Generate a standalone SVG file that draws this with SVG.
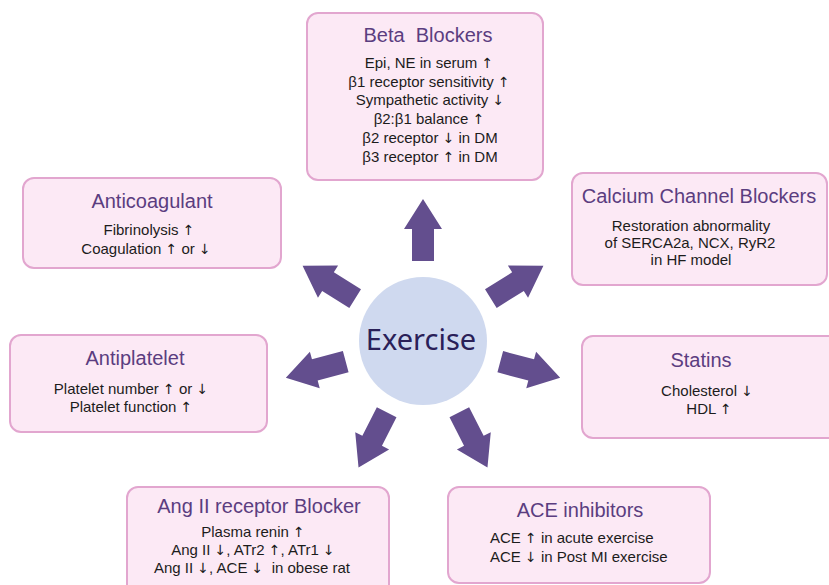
<svg xmlns="http://www.w3.org/2000/svg" width="829" height="585" viewBox="0 0 829 585">
  <style>
    .box { fill: #fce9f5; stroke: #e2a6cf; stroke-width: 2; }
    .title { font-family: "Liberation Sans", Arial, sans-serif; font-size: 20px; fill: #5b3d80; text-anchor: middle; }
    .body { font-family: "Liberation Sans", Arial, sans-serif; font-size: 15px; fill: #1c1c1c; text-anchor: middle; }
    .left { text-anchor: start; }
    .ar { font-family: "DejaVu Sans", sans-serif; font-size: 14px; fill: #1c1c1c; }
    .arrow { fill: #634e8e; }
  </style>
  <defs>
    <polygon id="blockArrow" points="0,-11 32,-11 32,-19 62,0 32,19 32,11 0,11"/>
  </defs>
  <rect width="829" height="585" fill="#ffffff"/>

  <g id="connectors" class="arrow">
    <use href="#blockArrow" transform="translate(423,341) rotate(-90) translate(80,0)"/>
    <use href="#blockArrow" transform="translate(423,341) rotate(-32) translate(80,0)"/>
    <use href="#blockArrow" transform="translate(423,341) rotate(15) translate(80,0)"/>
    <use href="#blockArrow" transform="translate(423,341) rotate(63) translate(80,0)"/>
    <use href="#blockArrow" transform="translate(423,341) rotate(117) translate(80,0)"/>
    <use href="#blockArrow" transform="translate(423,341) rotate(165) translate(80,0)"/>
    <use href="#blockArrow" transform="translate(423,341) rotate(212) translate(80,0)"/>
  </g>

  <g id="exercise">
    <circle cx="423" cy="341" r="64" fill="#cfd9ef"/>
    <text x="421" y="350" font-family="'Noto Sans', 'Open Sans', sans-serif" font-size="29" fill="#2a2058" text-anchor="middle">Exercise</text>
  </g>

  <g id="beta-blockers">
    <rect class="box" x="307" y="13" width="236" height="167" rx="11"/>
    <text class="title" x="428" y="42">Beta&#160; Blockers</text>
    <text class="body" x="429" y="68">Epi, NE in serum <tspan class="ar">↑</tspan></text>
    <text class="body" x="429" y="87">β1 receptor sensitivity <tspan class="ar">↑</tspan></text>
    <text class="body" x="430" y="105">Sympathetic activity <tspan class="ar">↓</tspan></text>
    <text class="body" x="429" y="124">β2:β1 balance <tspan class="ar">↑</tspan></text>
    <text class="body" x="430" y="143">β2 receptor <tspan class="ar">↓</tspan> in DM</text>
    <text class="body" x="430" y="162">β3 receptor <tspan class="ar">↑</tspan> in DM</text>
  </g>

  <g id="anticoagulant">
    <rect class="box" x="23" y="178" width="258" height="90" rx="11"/>
    <text class="title" x="152" y="208">Anticoagulant</text>
    <text class="body" x="149" y="235">Fibrinolysis <tspan class="ar">↑</tspan></text>
    <text class="body" x="146" y="254">Coagulation <tspan class="ar">↑</tspan> or <tspan class="ar">↓</tspan></text>
  </g>

  <g id="calcium-channel-blockers">
    <rect class="box" x="572" y="173" width="255" height="112" rx="11"/>
    <text class="title" x="699" y="203">Calcium Channel Blockers</text>
    <text class="body" x="691" y="231">Restoration abnormality</text>
    <text class="body" x="690" y="248">of SERCA2a, NCX, RyR2</text>
    <text class="body" x="691" y="265">in HF model</text>
  </g>

  <g id="antiplatelet">
    <rect class="box" x="10" y="335" width="257" height="97" rx="11"/>
    <text class="title" x="135" y="365">Antiplatelet</text>
    <text class="body" x="131" y="394">Platelet number <tspan class="ar">↑</tspan> or <tspan class="ar">↓</tspan></text>
    <text class="body" x="131" y="412">Platelet function <tspan class="ar">↑</tspan></text>
  </g>

  <g id="statins">
    <rect class="box" x="582" y="336" width="260" height="102" rx="11"/>
    <text class="title" x="701" y="367">Statins</text>
    <text class="body" x="707" y="396">Cholesterol <tspan class="ar">↓</tspan></text>
    <text class="body" x="709" y="414">HDL <tspan class="ar">↑</tspan></text>
  </g>

  <g id="ang-ii-receptor-blocker">
    <rect class="box" x="127" y="487" width="262" height="110" rx="11"/>
    <text class="title" x="259" y="513">Ang II receptor Blocker</text>
    <text class="body" x="253" y="537">Plasma renin <tspan class="ar">↑</tspan></text>
    <text class="body" x="253" y="555">Ang II <tspan class="ar">↓</tspan>, ATr2 <tspan class="ar">↑</tspan>, ATr1 <tspan class="ar">↓</tspan></text>
    <text class="body" x="252" y="573">Ang II <tspan class="ar">↓</tspan>, ACE <tspan class="ar">↓</tspan>&#160; in obese rat</text>
  </g>

  <g id="ace-inhibitors">
    <rect class="box" x="448" y="487" width="262" height="96" rx="11"/>
    <text class="title" x="580" y="517">ACE inhibitors</text>
    <text class="body left" x="490" y="543">ACE <tspan class="ar">↑</tspan> in acute exercise</text>
    <text class="body left" x="490" y="562">ACE <tspan class="ar">↓</tspan> in Post MI exercise</text>
  </g>
</svg>
